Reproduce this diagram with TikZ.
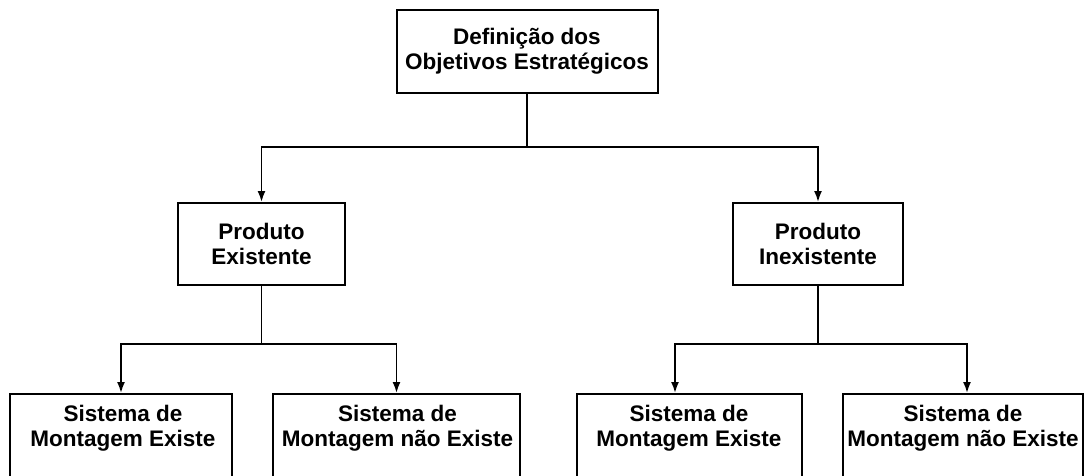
\documentclass[tikz,border=0pt]{standalone}
\usepackage{fontspec}
\setmainfont{Liberation Sans}
\usetikzlibrary{arrows.meta,calc}
\begin{document}
\begin{tikzpicture}[x=1pt,y=-1pt,
  box/.style={draw, line width=2pt, inner sep=0pt},
  lbl/.style={font=\bfseries\fontsize{22.5}{25}\selectfont, align=center, inner sep=0pt},
  conn/.style={line width=1.8pt},
  arr/.style={conn,-{Latex[length=11pt,width=8pt]}}]
\useasboundingbox (0,0) rectangle (1088,475);
\clip (0,0) rectangle (1088,475);
% top
\node[box,lbl,minimum width=261pt,minimum height=83pt] (top) at (527,51.5) {Definição dos\\Objetivos Estratégicos};
% middle
\node[box,lbl,minimum width=167pt,minimum height=82pt] (m1) at (261.5,244) {Produto\\Existente};
\node[box,lbl,minimum width=170pt,minimum height=82pt] (m2) at (818,244) {Produto\\Inexistente};
% bottom boxes (cut off by the lower edge)
\node[box,minimum width=222pt,minimum height=110pt,anchor=north] (b1) at (121,393) {};
\node[box,minimum width=247pt,minimum height=110pt,anchor=north] (b2) at (396.5,393) {};
\node[box,minimum width=225pt,minimum height=110pt,anchor=north] (b3) at (689.5,393) {};
\node[box,minimum width=240pt,minimum height=110pt,anchor=north] (b4) at (963,393) {};
\node[lbl] (t1) at (123,428) {Sistema de\\Montagem Existe};
\node[lbl] (t2) at (397.5,428) {Sistema de\\Montagem não Existe};
\node[lbl] (t3) at (689,428) {Sistema de\\Montagem Existe};
\node[lbl] (t4) at (963,428) {Sistema de\\Montagem não Existe};
% connectors
\draw[conn] (top.south) -- (top.south |- 0,147) coordinate (j0);
\draw[arr] (j0) -| (m1.north);
\draw[arr] (j0) -| (m2.north);
\draw[conn] (m1.south) -- (m1.south |- 0,344) coordinate (j1);
\draw[arr] (j1) -| (b1.north);
\draw[arr] (j1) -| (b2.north);
\coordinate (a3) at (b3.north -| 675,0);
\coordinate (a4) at (b4.north -| 967,0);
\draw[conn] (m2.south) -- (m2.south |- 0,344) coordinate (j2);
\draw[arr] (j2) -| (a3);
\draw[arr] (j2) -| (a4);
\end{tikzpicture}
\end{document}
